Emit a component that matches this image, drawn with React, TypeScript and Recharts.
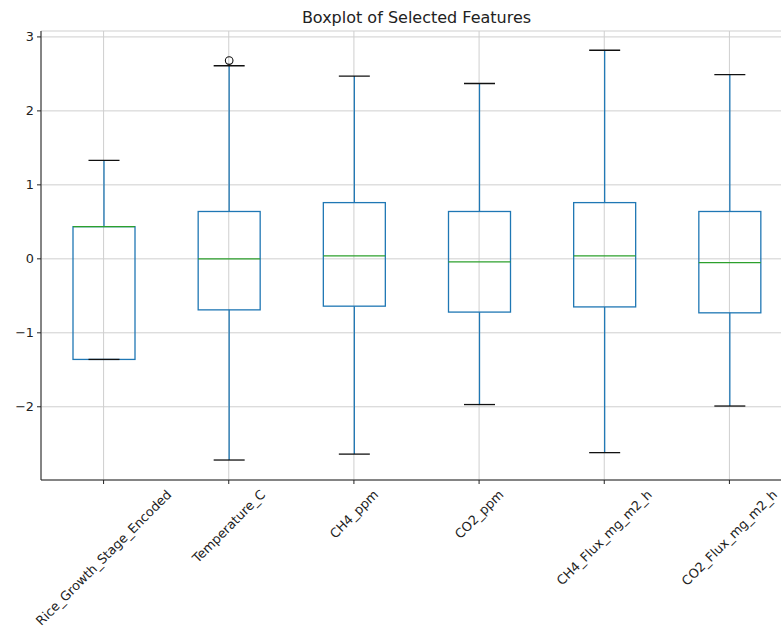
import React from 'react';
import { ComposedChart, Bar, XAxis, YAxis, CartesianGrid } from 'recharts';

const features = [
  'Rice_Growth_Stage_Encoded',
  'Temperature_C',
  'CH4_ppm',
  'CO2_ppm',
  'CH4_Flux_mg_m2_h',
  'CO2_Flux_mg_m2_h',
];
const whiskerLow = [-1.36, -2.72, -2.64, -1.97, -2.62, -1.99];
const q1 = [-1.36, -0.69, -0.64, -0.72, -0.65, -0.73];
const median = [0.435, 0.0, 0.04, -0.04, 0.04, -0.05];
const q3 = [0.435, 0.64, 0.76, 0.64, 0.76, 0.64];
const whiskerHigh = [1.33, 2.61, 2.47, 2.37, 2.82, 2.49];
const outliers: number[][] = [[], [2.68], [], [], [], []];
const yTicks = [-2, -1, 0, 1, 2, 3];
const yDomain: [number, number] = [-2.99, 3.08];
const title = 'Boxplot of Selected Features';

const data = features.map((name, i) => {
  const lo = Math.min(whiskerLow[i], ...outliers[i]);
  const hi = Math.max(whiskerHigh[i], ...outliers[i]);
  return {
    name,
    range: [lo, hi],
    wl: whiskerLow[i],
    q1: q1[i],
    med: median[i],
    q3: q3[i],
    wh: whiskerHigh[i],
    out: outliers[i],
  };
});

const FONT = '"DejaVu Sans", Verdana, sans-serif';
const TICK_FS = 12.8;
const BLUE = '#1f77b4';
const GREEN = '#2ca02c';
const LW = 1.3;

let ctx: CanvasRenderingContext2D | null = null;
const measure = (s: string, fs: number) => {
  if (!ctx && typeof document !== 'undefined') {
    ctx = document.createElement('canvas').getContext('2d');
  }
  if (!ctx) return s.length * fs * 0.6;
  ctx.font = `${fs}px "DejaVu Sans"`;
  return ctx.measureText(s).width;
};

const BoxShape = (props: any) => {
  const { x, y, width, height, payload } = props;
  if (!payload) return null;
  const top = Math.min(y, y + height);
  const bot = Math.max(y, y + height);
  const lo = payload.range[0];
  const hi = payload.range[1];
  const py = (v: number) => top + ((hi - v) / (hi - lo)) * (bot - top);
  const cx = x + width / 2;
  const capHalf = width / 4;
  return (
    <g>
      <rect
        x={x}
        y={py(payload.q3)}
        width={width}
        height={py(payload.q1) - py(payload.q3)}
        fill="none"
        stroke={BLUE}
        strokeWidth={LW}
      />
      <line x1={cx} x2={cx} y1={py(payload.q3)} y2={py(payload.wh)} stroke={BLUE} strokeWidth={LW} />
      <line x1={cx} x2={cx} y1={py(payload.q1)} y2={py(payload.wl)} stroke={BLUE} strokeWidth={LW} />
      <line x1={cx - capHalf} x2={cx + capHalf} y1={py(payload.wh)} y2={py(payload.wh)} stroke="#111" strokeWidth={LW} />
      <line x1={cx - capHalf} x2={cx + capHalf} y1={py(payload.wl)} y2={py(payload.wl)} stroke="#111" strokeWidth={LW} />
      <line x1={x} x2={x + width} y1={py(payload.med)} y2={py(payload.med)} stroke={GREEN} strokeWidth={LW} />
      {payload.out.map((v: number, k: number) => (
        <circle key={k} cx={cx} cy={py(v)} r={3.8} fill="none" stroke="#111" strokeWidth={1.1} />
      ))}
    </g>
  );
};

const XTick = (props: any) => {
  const { x, y, payload } = props;
  const label = String(payload.value);
  const w = measure(label, TICK_FS);
  const h = TICK_FS * 1.16;
  const d = ((w + h) * Math.SQRT1_2) / 2;
  return (
    <text
      transform={`translate(${x},${y + d}) rotate(-45)`}
      textAnchor="middle"
      dominantBaseline="central"
      fontSize={TICK_FS}
      fontFamily={FONT}
      fill="#222"
    >
      {label}
    </text>
  );
};

export default function App() {
  return (
    <div
      style={{
        position: 'absolute',
        left: 0,
        top: 0,
        width: 781,
        height: 635,
        overflow: 'hidden',
        background: '#fff',
        fontFamily: FONT,
      }}
    >
      <ComposedChart
        width={800}
        height={635}
        data={data}
        margin={{ top: 31, right: 8, bottom: 0, left: 0 }}
      >
        <CartesianGrid stroke="#cfcfcf" strokeWidth={1} />
        <XAxis
          dataKey="name"
          type="category"
          height={155}
          interval={0}
          tick={<XTick />}
          tickSize={4}
          tickMargin={3}
          axisLine={{ stroke: '#222', strokeWidth: 1 }}
          tickLine={{ stroke: '#222', strokeWidth: 1 }}
        />
        <XAxis
          xAxisId="top"
          orientation="top"
          dataKey="name"
          type="category"
          height={0}
          tick={false}
          tickLine={false}
          axisLine={{ stroke: '#222', strokeWidth: 1 }}
        />
        <YAxis
          type="number"
          domain={yDomain}
          ticks={yTicks}
          allowDataOverflow
          width={41}
          tickSize={4}
          tickMargin={3}
          interval={0}
          tickFormatter={(v: number) => String(v).replace('-', '\u2212')}
          tick={{ fontSize: TICK_FS, fontFamily: FONT, fill: '#222' }}
          axisLine={{ stroke: '#222', strokeWidth: 1 }}
          tickLine={{ stroke: '#222', strokeWidth: 1 }}
        />
        <Bar dataKey="range" barSize={62} shape={<BoxShape />} isAnimationActive={false} />
      </ComposedChart>
      <svg
        width={781}
        height={30}
        style={{ position: 'absolute', left: 0, top: 0, pointerEvents: 'none' }}
      >
        <text x={416.5} y={23} textAnchor="middle" fontSize={16} fontFamily={FONT} fill="#222">
          {title}
        </text>
      </svg>
    </div>
  );
}
